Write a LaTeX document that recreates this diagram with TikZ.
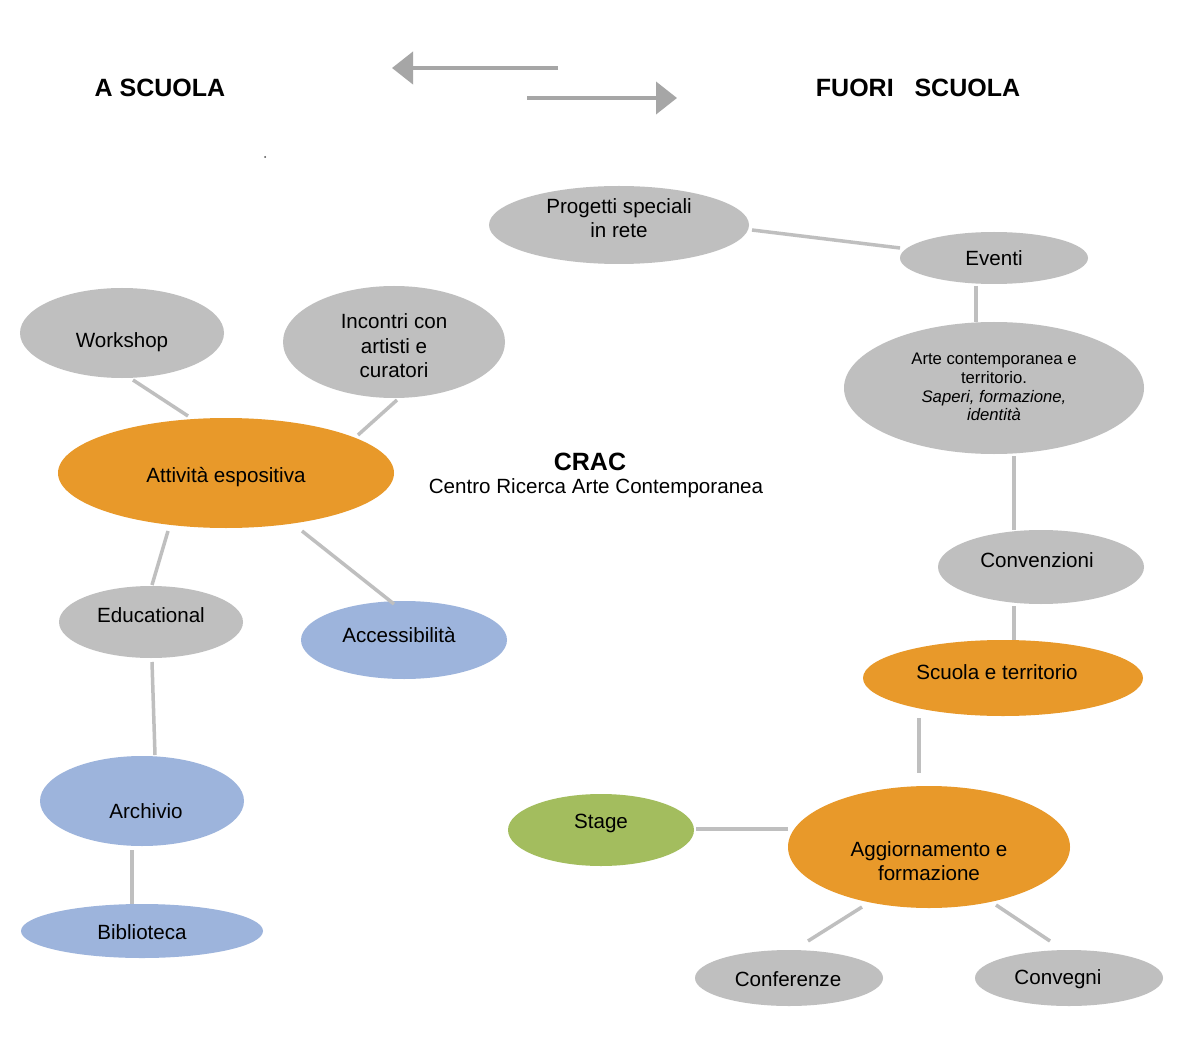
\documentclass[tikz,border=0pt]{standalone}
\usepackage{fontspec}
\setmainfont{Liberation Sans}
\usetikzlibrary{shapes.geometric,arrows.meta}
\definecolor{bubgray}{HTML}{BFBFBF}
\definecolor{bubor}{HTML}{E8992A}
\definecolor{bubblue}{HTML}{9DB4DC}
\definecolor{bubgreen}{HTML}{A3BD5E}
\definecolor{lngray}{HTML}{BFBFBF}
\definecolor{arrgray}{HTML}{A6A6A6}
\newcommand\ftx{\fontsize{20.6pt}{24.5pt}\selectfont}
\newcommand\fsm{\fontsize{16.7pt}{18.8pt}\selectfont}
\newcommand\fhd{\fontsize{25pt}{29pt}\selectfont\bfseries}
\begin{document}
\begin{tikzpicture}[x=1pt,y=-1pt,
  bub/.style={ellipse,inner sep=0pt,draw=none},
  g/.style={bub,fill=bubgray},
  o/.style={bub,fill=bubor},
  b/.style={bub,fill=bubblue},
  gn/.style={bub,fill=bubgreen},
  txt/.style={inner sep=0pt,align=center,font=\ftx,text=black},
  conn/.style={draw=lngray,line width=3.5pt},
  arr/.style={draw=arrgray,line width=4pt,-{Triangle[length=21pt,width=32pt]}}
]
\useasboundingbox[fill=white] (0,0) rectangle (1196,1056);

% headers
\node[inner sep=0pt,font=\fhd] (hA) at (160,88) {A SCUOLA};
\node[inner sep=0pt,font=\fhd] (hF) at (918,88) {FUORI\ \ \ SCUOLA};
\node[inner sep=0pt,font=\fhd] (crac) at (590,462) {CRAC};
\node[inner sep=0pt,font=\ftx] (cracsub) at (596,488) {Centro Ricerca Arte Contemporanea};

% arrows
\coordinate (la1) at (558,68);
\coordinate (la2) at (392,68);
\coordinate (ra1) at (527,98);
\coordinate (ra2) at (677,98);
\draw[arr] (la1) -- (la2);
\draw[arr] (ra1) -- (ra2);

% ellipses
\node[g,minimum width=260pt,minimum height=78pt] (prog) at (619,225) {};
\node[g,minimum width=188pt,minimum height=52pt] (event) at (994,258) {};
\node[g,minimum width=300pt,minimum height=132pt] (arte) at (994,388) {};
\node[g,minimum width=206pt,minimum height=74pt] (conv) at (1041,567) {};
\node[o,minimum width=280pt,minimum height=76pt] (scuola) at (1003,678) {};
\node[o,minimum width=282pt,minimum height=122pt] (aggi) at (929,847) {};
\node[gn,minimum width=186pt,minimum height=72pt] (stage) at (601,830) {};
\node[g,minimum width=188pt,minimum height=56pt] (confe) at (789,978) {};
\node[g,minimum width=188pt,minimum height=56pt] (conve) at (1069,978) {};
\node[g,minimum width=204pt,minimum height=90pt] (work) at (122,333) {};
\node[g,minimum width=222pt,minimum height=112pt] (inco) at (394,342) {};
\node[o,minimum width=336pt,minimum height=110pt] (atti) at (226,473) {};
\node[g,minimum width=184pt,minimum height=72pt] (edu) at (151,622) {};
\node[b,minimum width=206pt,minimum height=78pt] (acce) at (404,640) {};
\node[b,minimum width=204pt,minimum height=90pt] (arch) at (142,801) {};
\node[b,minimum width=242pt,minimum height=54pt] (bibl) at (142,931) {};

% texts
\node[txt] (tprog) at (619,218) {Progetti speciali\\in rete};
\node[txt] (tevent) at (994,258) {Eventi};
\node[txt,font=\fsm] (tarte) at (994,387) {Arte contemporanea e\\territorio.\\\itshape Saperi, formazione,\\\itshape identità};
\node[txt] (tconv) at (1037,560) {Convenzioni};
\node[txt] (tscuola) at (997,672) {Scuola e territorio};
\node[txt] (taggi) at (929,861) {Aggiornamento e\\formazione};
\node[txt] (tstage) at (601,823) {Stage};
\node[txt] (tconfe) at (788,979) {Conferenze};
\node[txt] (tconve) at (1058,979) {Convegni};
\node[txt] (twork) at (122,342) {Workshop};
\node[txt] (tinco) at (394,346) {Incontri con\\artisti e\\curatori};
\node[txt] (tatti) at (226,477) {Attività espositiva};
\node[txt] (tedu) at (151,615) {Educational};
\node[txt] (tacce) at (399,635) {Accessibilità};
\node[txt] (tarch) at (146,811) {Archivio};
\node[txt] (tbibl) at (142,932) {Biblioteca};

% connector end points
\coordinate (c1a) at (752,230); \coordinate (c1b) at (900,248);
\coordinate (c2a) at (976,286); \coordinate (c2b) at (976,322);
\coordinate (c3a) at (1014,456); \coordinate (c3b) at (1014,530);
\coordinate (c4a) at (1014,606); \coordinate (c4b) at (1014,640);
\coordinate (c5a) at (919,718); \coordinate (c5b) at (919,773);
\coordinate (c6a) at (696,829); \coordinate (c6b) at (788,829);
\coordinate (c7a) at (862,907); \coordinate (c7b) at (808,941);
\coordinate (c8a) at (996,905); \coordinate (c8b) at (1050,941);
\coordinate (c9a) at (133,380); \coordinate (c9b) at (188,416);
\coordinate (c10a) at (397,400); \coordinate (c10b) at (358,435);
\coordinate (c11a) at (168,531); \coordinate (c11b) at (152,585);
\coordinate (c12a) at (302,531); \coordinate (c12b) at (394,604);
\coordinate (c13a) at (152,662); \coordinate (c13b) at (155,755);
\coordinate (c14a) at (132,850); \coordinate (c14b) at (132,904);
\foreach \i in {1,...,14} {\draw[conn] (c\i a) -- (c\i b);}

% stray dot
\fill[black!70] (265,157) circle (1pt);
\end{tikzpicture}
\end{document}
